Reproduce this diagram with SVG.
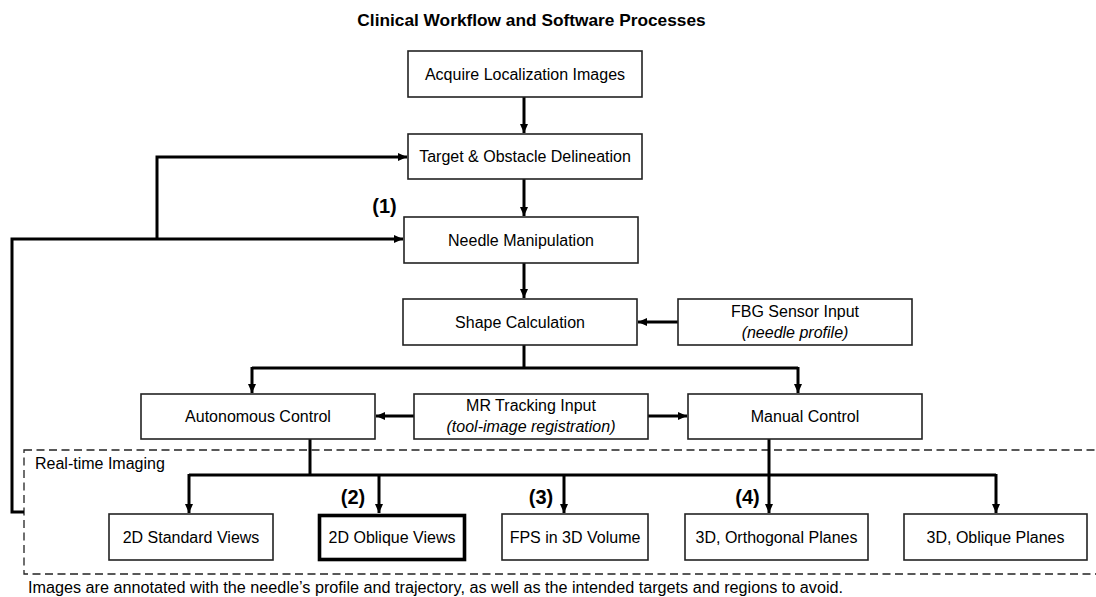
<svg xmlns="http://www.w3.org/2000/svg" width="1096" height="597" viewBox="0 0 1096 597">
<style>
text{font-family:"Liberation Sans",Arial,sans-serif;font-size:16px;fill:#000;text-anchor:middle}
.title{font-weight:bold;font-size:17.3px}
.lbl{font-weight:bold;font-size:20px}
.it{font-style:italic}
.box{fill:#fff;stroke:#222;stroke-width:1.6}
.thick{fill:#fff;stroke:#000;stroke-width:3.6}
.con{fill:none;stroke:#000;stroke-width:3;stroke-linejoin:miter}
.dash{fill:none;stroke:#222;stroke-width:1.3;stroke-dasharray:8 4.5}
</style>
<defs>
<marker id="ah" markerUnits="userSpaceOnUse" markerWidth="10" markerHeight="10" refX="9" refY="4" orient="auto">
<path d="M0,0 L9,4 L0,8 z" fill="#000"/>
</marker>
</defs>
<rect width="1096" height="597" fill="#fff"/>
<text class="title" x="531.5" y="26">Clinical Workflow and Software Processes</text>

<g id="realtime-imaging">
<rect class="dash" x="24" y="450" width="1090" height="124"/>
<text x="35" y="469" style="text-anchor:start">Real-time Imaging</text>
</g>

<g id="connectors">
<line class="con" x1="524" y1="97" x2="524" y2="133" marker-end="url(#ah)"/>
<line class="con" x1="524" y1="179" x2="524" y2="216" marker-end="url(#ah)"/>
<line class="con" x1="524" y1="263" x2="524" y2="298" marker-end="url(#ah)"/>
<polyline class="con" points="524,345 524,368"/>
<polyline class="con" points="252,368 798,368"/>
<line class="con" x1="252" y1="367" x2="252" y2="393" marker-end="url(#ah)"/>
<line class="con" x1="798" y1="367" x2="798" y2="393" marker-end="url(#ah)"/>
<line class="con" x1="678" y1="322" x2="638" y2="322" marker-end="url(#ah)"/>
<line class="con" x1="414" y1="416" x2="376" y2="416" marker-end="url(#ah)"/>
<line class="con" x1="648" y1="416" x2="687" y2="416" marker-end="url(#ah)"/>
<polyline class="con" points="310,439 310,475"/>
<polyline class="con" points="189,475 996,475"/>
<line class="con" x1="189" y1="474" x2="189" y2="513" marker-end="url(#ah)"/>
<line class="con" x1="379" y1="474" x2="379" y2="513" marker-end="url(#ah)"/>
<line class="con" x1="564" y1="474" x2="564" y2="513" marker-end="url(#ah)"/>
<line class="con" x1="996" y1="474" x2="996" y2="513" marker-end="url(#ah)"/>
<line class="con" x1="769" y1="439" x2="769" y2="513" marker-end="url(#ah)"/>
<polyline class="con" points="24,512 12,512 12,239 403,239" marker-end="url(#ah)"/>
<polyline class="con" points="157,239 157,157 407,157" marker-end="url(#ah)"/>
</g>

<g id="acquire">
<rect class="box" x="408" y="51" width="234" height="46"/>
<text x="525" y="80">Acquire Localization Images</text>
</g>
<g id="target">
<rect class="box" x="408" y="134" width="234" height="45"/>
<text x="525" y="162">Target &amp; Obstacle Delineation</text>
</g>
<g id="needle">
<rect class="box" x="404" y="217" width="234" height="46"/>
<text x="521" y="246">Needle Manipulation</text>
</g>
<text class="lbl" x="384.5" y="213">(1)</text>
<g id="shape">
<rect class="box" x="403" y="299" width="234" height="46"/>
<text x="520" y="328">Shape Calculation</text>
</g>
<g id="fbg">
<rect class="box" x="678" y="299" width="234" height="46"/>
<text x="795" y="317">FBG Sensor Input</text>
<text class="it" x="795" y="338">(needle profile)</text>
</g>
<g id="autonomous">
<rect class="box" x="141" y="394" width="234" height="45"/>
<text x="258" y="422">Autonomous Control</text>
</g>
<g id="mr">
<rect class="box" x="414" y="394" width="234" height="45"/>
<text x="531" y="411">MR Tracking Input</text>
<text class="it" x="531" y="432">(tool-image registration)</text>
</g>
<g id="manual">
<rect class="box" x="688" y="394" width="234" height="45"/>
<text x="805" y="422">Manual Control</text>
</g>
<g id="std2d">
<rect class="box" x="109" y="514" width="164" height="46"/>
<text x="191" y="543">2D Standard Views</text>
</g>
<g id="obl2d">
<rect class="thick" x="319.5" y="515.5" width="145" height="44"/>
<text x="392" y="543">2D Oblique Views</text>
</g>
<text class="lbl" x="353" y="504">(2)</text>
<g id="fps">
<rect class="box" x="502" y="514" width="146" height="46"/>
<text x="575" y="543">FPS in 3D Volume</text>
</g>
<text class="lbl" x="541" y="504">(3)</text>
<g id="ortho3d">
<rect class="box" x="685" y="514" width="183" height="46"/>
<text x="776.5" y="543">3D, Orthogonal Planes</text>
</g>
<text class="lbl" x="747.5" y="504">(4)</text>
<g id="obl3d">
<rect class="box" x="904" y="514" width="183" height="46"/>
<text x="995.5" y="543">3D, Oblique Planes</text>
</g>
<text x="435.5" y="593" textLength="815" lengthAdjust="spacingAndGlyphs">Images are annotated with the needle’s profile and trajectory, as well as the intended targets and regions to avoid.</text>
</svg>
